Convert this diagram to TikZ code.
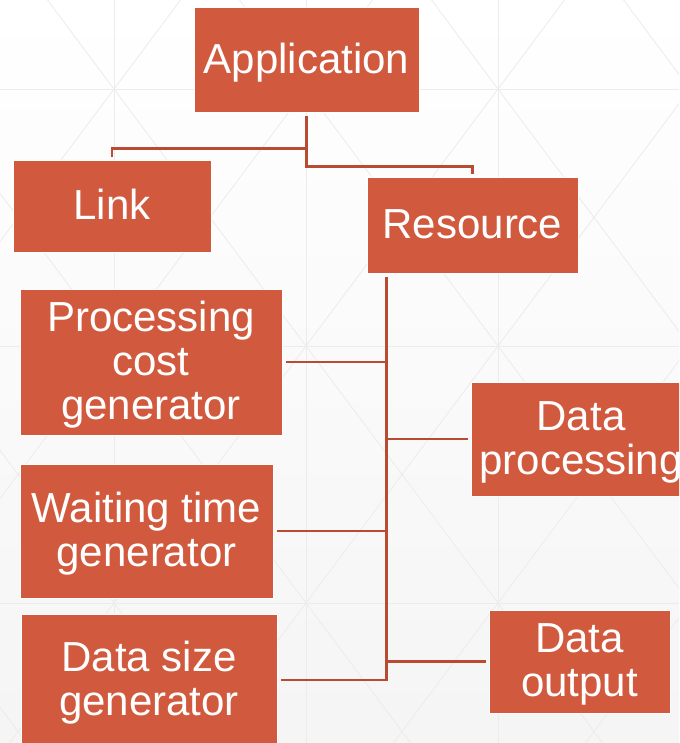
\documentclass[tikz,border=0pt]{standalone}
\usepackage{fontspec}
\setmainfont{Liberation Sans}
\usetikzlibrary{positioning, calc}
\definecolor{corange}{HTML}{D15A3E}
\definecolor{cline}{HTML}{B84B32}
\definecolor{cgrid}{HTML}{ECECEC}
\newcommand{\bxstrut}{\rule[-9pt]{0pt}{44pt}}
\tikzset{
  box/.style={fill=corange, draw=white, line width=1pt, text=white, align=center, inner sep=0pt,
              font=\fontsize{42}{44}\selectfont},
  conn/.style={draw=cline, line width=2.6pt, shorten <=3pt, shorten >=3pt},
  bggrid/.style={draw=cgrid, line width=0.8pt},
}

\begin{document}
\begin{tikzpicture}[x=1pt, y=-1pt]
  \useasboundingbox (0,0) rectangle (679,743);
  \clip (0,0) rectangle (679,743);
  \shade[top color=white, bottom color=black!4] (0,0) rectangle (679,743);
  % background pattern
  \foreach \x in {-78,114,...,690} \draw[bggrid] (\x,0) -- (\x,743);
  \foreach \y in {89,346,603} \draw[bggrid] (0,\y) -- (679,\y);
  \foreach \x in {-78,114,306,498} \foreach \y in {-168,89,346,603} {
    \draw[bggrid] (\x,\y) -- ++(192,257);
    \draw[bggrid] (\x+192,\y) -- ++(-192,257);
  }
  % boxes
  \node[box, minimum width=225, minimum height=105] (app) at (306.5,60.5) {\bxstrut Application};
  \node[box, minimum width=198, minimum height=91] (link) at (112,206.5) {\bxstrut Link};
  \node[box, minimum width=211, minimum height=95] (res) at (472.5,225.5) {\bxstrut Resource};
  \node[box, minimum width=262, minimum height=146] (pcg) at (151,362) {\bxstrut Processing\\\bxstrut cost\\\bxstrut generator};
  \node[box, minimum width=253, minimum height=134] (wtg) at (146.5,531) {\bxstrut Waiting time\\\bxstrut generator};
  \node[box, minimum width=256, minimum height=132] (dsg) at (149,680) {\bxstrut Data size\\\bxstrut generator};
  \node[box, minimum width=220, minimum height=114] (dp) at (581,439) {\bxstrut Data\\\bxstrut processing};
  \node[box, minimum width=181, minimum height=103] (dout) at (579.5,661.5) {\bxstrut Data\\\bxstrut output};
  % connectors
  \draw[conn] (app.south) -- ++(0,35) -| (link.north);
  \draw[conn] (app.south) -- ++(0,53) -| (res.north);
  \coordinate (trunk) at ([xshift=20pt]res.south west);
  \draw[conn] (trunk) |- (dsg.east);
  \foreach \n in {pcg, wtg} \draw[conn, shorten >=0pt] (\n.east) -- (\n.east -| trunk);
  \foreach \n in {dp, dout} \draw[conn, shorten <=0pt] (\n.west -| trunk) -- (\n.west);
\end{tikzpicture}
\end{document}
